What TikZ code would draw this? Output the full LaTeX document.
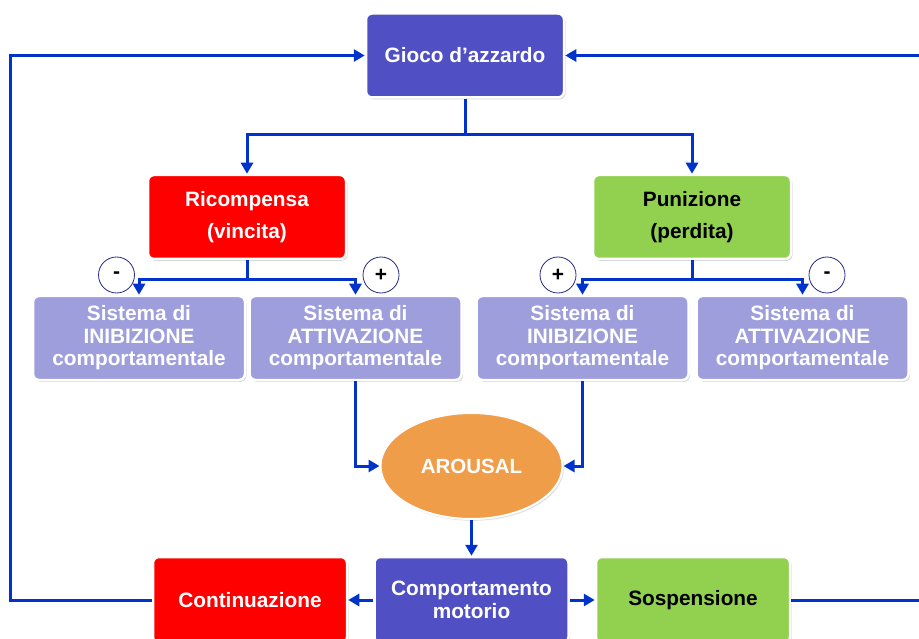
\documentclass[tikz,border=0pt]{standalone}
\usepackage{fontspec}
\setmainfont{Liberation Sans}
\usetikzlibrary{arrows.meta,shadows,shapes.geometric}

\definecolor{gblue}{RGB}{80,80,196}
\definecolor{gred}{RGB}{255,0,0}
\definecolor{ggreen}{RGB}{146,208,80}
\definecolor{glav}{RGB}{158,158,220}
\definecolor{gorange}{RGB}{240,157,74}
\definecolor{gline}{RGB}{0,51,204}
\definecolor{gcirc}{RGB}{40,40,140}

\tikzset{
  box/.style={rectangle, rounded corners=6pt, draw=white, line width=2.5pt,
    drop shadow={shadow xshift=1.5pt, shadow yshift=-1.8pt, opacity=0.35},
    align=center, font=\fontsize{20.8}{22.5}\selectfont\bfseries, inner sep=0pt},
  topbox/.style={box, minimum width=198pt, minimum height=84pt, fill=gblue, text=white},
  midbox/.style={box, minimum width=198pt, minimum height=84pt,
    font=\fontsize{20.8}{32}\selectfont\bfseries},
  sysbox/.style={box, minimum width=212pt, minimum height=84pt, fill=glav, text=white},
  botbox/.style={box, minimum width=194pt, minimum height=86pt},
  sign/.style={circle, draw=gcirc, line width=0.8pt, fill=white, minimum size=36pt,
    inner sep=0pt, font=\fontsize{21}{22}\selectfont\bfseries},
  line/.style={draw=gline, line width=3pt},
  conn/.style={line, -{Triangle[length=11pt,width=12pt]}},
}

\begin{document}
\begin{tikzpicture}[x=1pt,y=-1pt]
\useasboundingbox (0,0) rectangle (919,639);

% top node
\node[topbox] (gioco) at (465,55.5) {Gioco d’azzardo};

% outcome nodes
\node[midbox, fill=gred, text=white] (ricomp) at (247,217) {Ricompensa\\(vincita)};
\node[midbox, fill=ggreen, text=black] (puniz) at (692,217) {Punizione\\(perdita)};

% behavioural systems
\node[sysbox] (sis1) at (139,338) {Sistema di\\INIBIZIONE\\comportamentale};
\node[sysbox] (sis2) at (355.5,338) {Sistema di\\ATTIVAZIONE\\comportamentale};
\node[sysbox] (sis3) at (582.5,338) {Sistema di\\INIBIZIONE\\comportamentale};
\node[sysbox] (sis4) at (802.5,338) {Sistema di\\ATTIVAZIONE\\comportamentale};

% arousal
\node[ellipse, fill=gorange, draw=white, line width=2pt, minimum width=182pt,
  minimum height=106pt, inner sep=0pt, text=white,
  drop shadow={shadow xshift=1.5pt, shadow yshift=-1.8pt, opacity=0.25},
  font=\fontsize{20.5}{22}\selectfont\bfseries] (arousal) at (471.5,466) {AROUSAL};

% outcome of behaviour
\node[botbox, fill=gblue, text=white] (comp) at (471.5,600) {Comportamento\\motorio};
\node[botbox, fill=gred, text=white] (cont) at (250,600) {Continuazione};
\node[botbox, fill=ggreen, text=black] (sosp) at (693,600) {Sospensione};

% signs
\node[sign] (s1) at (116.5,275) {-};
\node[sign] (s2) at (381,275) {+};
\node[sign] (s3) at (558,275) {+};
\node[sign] (s4) at (827,275) {-};

% free ends of the right loop
\coordinate (rexit) at (930,600);
\coordinate (rentry) at (930,55.5);

% connectors
\draw[conn] (gioco.south) -- ++(0,36) -| (ricomp.north);
\draw[conn] (gioco.south) -- ++(0,36) -| (puniz.north);
\draw[conn] (ricomp.south) -- ++(0,19) -| (sis1.north);
\draw[conn] (ricomp.south) -- ++(0,19) -| (sis2.north);
\draw[conn] (puniz.south) -- ++(0,19) -| (sis3.north);
\draw[conn] (puniz.south) -- ++(0,19) -| (sis4.north);
\draw[conn] (sis2.south) |- (arousal.west);
\draw[conn] (sis3.south) |- (arousal.east);
\draw[conn] (arousal.south) -- (comp.north);
\draw[conn] (comp.west) -- (cont.east);
\draw[conn] (comp.east) -- (sosp.west);
\draw[conn] (cont.west) -- ++(-141,0) |- (gioco.west);
\draw[line] (sosp.east) -- (rexit);
\draw[conn] (rentry) -- (gioco.east);
\end{tikzpicture}
\end{document}
